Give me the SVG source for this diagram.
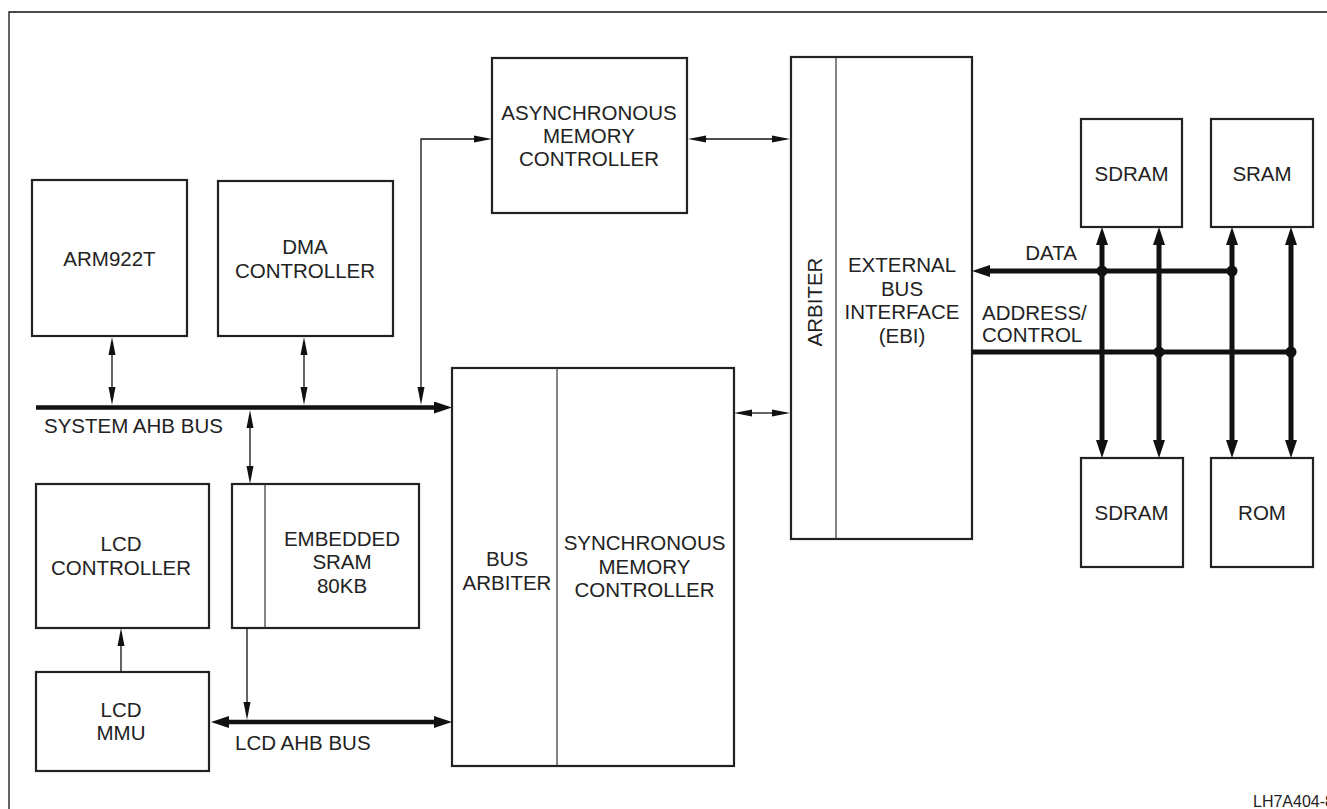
<svg xmlns="http://www.w3.org/2000/svg" width="1327" height="809" viewBox="0 0 1327 809">
<style>
.box{fill:#fff;stroke:#222;stroke-width:2.2}
.div{stroke:#333;stroke-width:1.2;fill:none}
.thin{stroke:#111;stroke-width:1.3;fill:none}
.bus{stroke:#111;stroke-width:4.5;fill:none}
.dbus{stroke:#111;stroke-width:5;fill:none}
text{font-family:"Liberation Sans",Arial,sans-serif;font-size:20.5px;fill:#222}
.c{text-anchor:middle}
</style>
<defs>
<marker id="at" markerUnits="userSpaceOnUse" markerWidth="18" markerHeight="8" viewBox="0 -4 18 8" refX="0" refY="0" orient="auto-start-reverse"><path d="M0,-3.5 L18,0 L0,3.5 z" fill="#111"/></marker>
<marker id="ab" markerUnits="userSpaceOnUse" markerWidth="18" markerHeight="12" viewBox="0 -6 18 12" refX="0" refY="0" orient="auto-start-reverse"><path d="M0,-6 L18,0 L0,6 z" fill="#111"/></marker>
</defs>
<rect width="1327" height="809" fill="#fff"/>
<path d="M9,809 L9,12 L1327,12" fill="none" stroke="#111" stroke-width="1.3"/>

<g id="arm922t"><rect class="box" x="32" y="180" width="155" height="156"/><text class="c" x="109.5" y="265.5">ARM922T</text></g>
<g id="dma"><rect class="box" x="218" y="181" width="175" height="155"/><text class="c" x="305" y="254">DMA</text><text class="c" x="305" y="277.5">CONTROLLER</text></g>
<g id="async"><rect class="box" x="492" y="58" width="195" height="155"/><text class="c" x="589" y="120">ASYNCHRONOUS</text><text class="c" x="589" y="143">MEMORY</text><text class="c" x="589" y="166">CONTROLLER</text></g>
<g id="ebi"><rect class="box" x="791" y="57" width="181" height="482"/><line class="div" x1="836" y1="57" x2="836" y2="539"/><text class="c" transform="translate(822,302) rotate(-90)">ARBITER</text><text class="c" x="902" y="272">EXTERNAL</text><text class="c" x="902" y="295.5">BUS</text><text class="c" x="902" y="319">INTERFACE</text><text class="c" x="902" y="343">(EBI)</text></g>
<g id="busarb"><rect class="box" x="452" y="368" width="282" height="398"/><line class="div" x1="557" y1="368" x2="557" y2="766"/><text class="c" x="507" y="566">BUS</text><text class="c" x="507" y="590">ARBITER</text><text class="c" x="644.5" y="550">SYNCHRONOUS</text><text class="c" x="644.5" y="574">MEMORY</text><text class="c" x="644.5" y="597">CONTROLLER</text></g>
<g id="lcdctrl"><rect class="box" x="36" y="484" width="173" height="144"/><text class="c" x="121" y="551">LCD</text><text class="c" x="121" y="575">CONTROLLER</text></g>
<g id="esram"><rect class="box" x="232" y="484" width="187" height="144"/><line class="div" x1="265" y1="484" x2="265" y2="628"/><text class="c" x="342" y="546">EMBEDDED</text><text class="c" x="342" y="569">SRAM</text><text class="c" x="342" y="593">80KB</text></g>
<g id="lcdmmu"><rect class="box" x="36" y="672" width="173" height="99"/><text class="c" x="121" y="717">LCD</text><text class="c" x="121" y="740">MMU</text></g>
<g id="sdram1"><rect class="box" x="1081" y="119" width="101" height="108"/><text class="c" x="1131.5" y="181">SDRAM</text></g>
<g id="sram"><rect class="box" x="1211" y="119" width="102" height="108"/><text class="c" x="1262" y="181">SRAM</text></g>
<g id="sdram2"><rect class="box" x="1081" y="458" width="102" height="109"/><text class="c" x="1131.5" y="520">SDRAM</text></g>
<g id="rom"><rect class="box" x="1211" y="458" width="102" height="109"/><text class="c" x="1262" y="520">ROM</text></g>

<g id="connectors">
<line class="bus" x1="36" y1="407.5" x2="434" y2="407.5" marker-end="url(#ab)"/>
<line class="bus" x1="229" y1="722" x2="434" y2="722" marker-start="url(#ab)" marker-end="url(#ab)"/>
<line class="thin" x1="112" y1="355" x2="112" y2="387" marker-start="url(#at)" marker-end="url(#at)"/>
<line class="thin" x1="304" y1="355" x2="304" y2="387" marker-start="url(#at)" marker-end="url(#at)"/>
<polyline class="thin" points="421,387 421,139 474,139" marker-start="url(#at)" marker-end="url(#at)"/>
<line class="thin" x1="706" y1="139" x2="772" y2="139" marker-start="url(#at)" marker-end="url(#at)"/>
<line class="thin" x1="752" y1="413" x2="772" y2="413" marker-start="url(#at)" marker-end="url(#at)"/>
<line class="thin" x1="250" y1="428" x2="250" y2="466" marker-start="url(#at)" marker-end="url(#at)"/>
<line class="thin" x1="247" y1="628" x2="247" y2="702" marker-end="url(#at)"/>
<line class="thin" x1="121" y1="672" x2="121" y2="646" marker-end="url(#at)"/>
<line class="dbus" x1="990" y1="271" x2="1232" y2="271" marker-start="url(#ab)"/>
<line class="dbus" x1="972" y1="352" x2="1291" y2="352"/>
<line class="dbus" x1="1102" y1="245" x2="1102" y2="440" marker-start="url(#ab)" marker-end="url(#ab)"/>
<line class="dbus" x1="1159" y1="245" x2="1159" y2="440" marker-start="url(#ab)" marker-end="url(#ab)"/>
<line class="dbus" x1="1232" y1="245" x2="1232" y2="440" marker-start="url(#ab)" marker-end="url(#ab)"/>
<line class="dbus" x1="1291" y1="245" x2="1291" y2="440" marker-start="url(#ab)" marker-end="url(#ab)"/>
<circle cx="1102" cy="271" r="5.5" fill="#111"/>
<circle cx="1232" cy="271" r="5.5" fill="#111"/>
<circle cx="1159" cy="352" r="5.5" fill="#111"/>
<circle cx="1291" cy="352" r="5.5" fill="#111"/>
</g>

<text x="44" y="433">SYSTEM AHB BUS</text>
<text x="235" y="750">LCD AHB BUS</text>
<text class="c" x="1051" y="260">DATA</text>
<text x="982" y="320">ADDRESS/</text>
<text x="982" y="342">CONTROL</text>
<text x="1253" y="807" style="font-size:16px">LH7A404-8</text>
</svg>
